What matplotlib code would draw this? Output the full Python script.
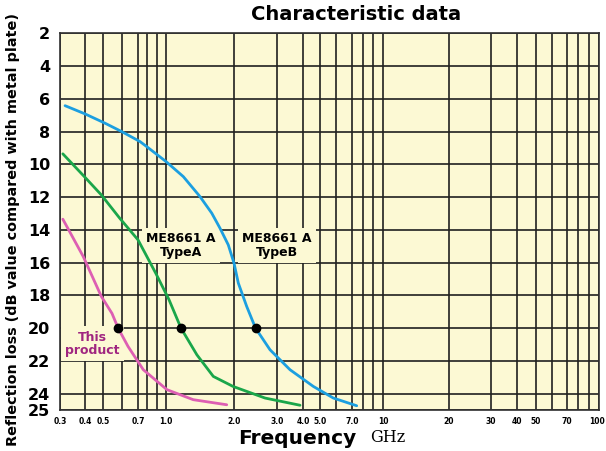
import numpy as np
import matplotlib
matplotlib.use("Agg")
import matplotlib.pyplot as plt
from matplotlib.transforms import ScaledTranslation

# ---- data (frequency GHz, reflection loss dB) ----
this_freq = [0.31, 0.392, 0.49, 0.545, 0.578, 0.636, 0.757, 1.01, 1.32, 1.857]
this_db   = [13.35, 15.63, 18.07, 19.1, 20.0, 21.12, 22.54, 23.76, 24.37, 24.68]

typeA_freq = [0.31, 0.397, 0.49, 0.587, 0.70, 0.886, 1.03, 1.165, 1.37, 1.62, 1.98, 2.68, 3.87]
typeA_db   = [9.36, 10.75, 11.87, 13.29, 14.61, 16.64, 18.25, 20.0, 21.63, 22.95, 23.56, 24.27, 24.71]

typeB_freq = [0.318, 0.40, 0.51, 0.598, 0.721, 0.797, 1.0, 1.193, 1.414, 1.594, 1.734, 1.887,
              2.0, 2.083, 2.255, 2.45, 2.808, 3.464, 4.58, 5.82, 7.41]
typeB_db   = [6.42, 6.92, 7.49, 8.0, 8.61, 8.92, 9.83, 10.75, 11.97, 12.98, 13.9, 14.92,
              16.03, 17.25, 18.68, 20.0, 21.32, 22.54, 23.56, 24.27, 24.74]

marker_freq = [0.58, 1.165, 2.45]
marker_db = [20, 20, 20]

x_labels = {0.3: "0.3", 0.4: "0.4", 0.5: "0.5", 0.7: "0.7", 1: "1.0", 2: "2.0", 3: "3.0",
            4: "4.0", 5: "5.0", 7: "7.0", 10: "10", 20: "20", 30: "30", 40: "40",
            50: "50", 70: "70", 100: "100"}
x_unlabeled = [0.6, 0.8, 0.9, 6, 8, 9, 60, 80, 90]
y_ticks = [2, 4, 6, 8, 10, 12, 14, 16, 18, 20, 22, 24, 25]

# ---- hand-drawn (near-log) frequency scale calibration ----
scale_freq = [0.3, 0.4, 0.5, 0.6, 0.7, 0.8, 0.9, 1, 2, 3, 4, 5, 6, 7, 8, 9, 10,
              20, 30, 40, 50, 60, 70, 80, 90, 100]
scale_pos = [60, 85, 103, 122, 138, 147, 157, 166, 234, 277, 303, 320, 336, 352, 363, 373, 383,
             449, 491, 517, 536, 552, 567, 578, 589, 599]
LK = np.log10(scale_freq)
PK = np.array(scale_pos, dtype=float)


def fwd(x):
    x = np.asarray(x, dtype=float)
    return np.interp(np.log10(np.clip(x, 1e-6, None)), LK, PK)


def inv(p):
    p = np.asarray(p, dtype=float)
    return 10 ** np.interp(p, PK, LK)


BG = "#fcf9d4"
fig = plt.figure(figsize=(6.06, 4.51), dpi=100)
ax = fig.add_axes([60 / 606, (451 - 410) / 451, 539 / 606, (410 - 33.3) / 451])
ax.set_facecolor(BG)
ax.set_xscale("function", functions=(fwd, inv))
ax.set_xlim(0.3, 100)
ax.set_ylim(25, 2)

ax.set_xticks(list(x_labels.keys()) + x_unlabeled)
ax.set_xticklabels(list(x_labels.values()) + [""] * len(x_unlabeled))
ax.xaxis.set_minor_locator(matplotlib.ticker.NullLocator())
ax.set_yticks(y_ticks)
ax.set_yticklabels([str(v) for v in y_ticks])
ax.tick_params(length=0)
ax.tick_params(axis="y", pad=7)
ax.tick_params(axis="x", pad=5)
for lab in ax.get_yticklabels():
    lab.set_fontsize(11.5)
    lab.set_fontweight("bold")
xls = ax.get_xticklabels()
for lab in xls:
    lab.set_fontsize(5.5)
    lab.set_fontweight("bold")
# keep the last label ("100") inside the figure
last = [l for l in xls if l.get_text() == "100"][0]
last.set_horizontalalignment("right")
last.set_transform(last.get_transform() + ScaledTranslation(6 / 100, 0, fig.dpi_scale_trans))

ax.set_axisbelow(True)
ax.grid(True, color="#202020", linewidth=1.2)
for s in ax.spines.values():
    s.set_color("#303030")
    s.set_linewidth(1.2)

kw = dict(lw=2.0, zorder=4, solid_capstyle="round", solid_joinstyle="round")
ax.plot(this_freq, this_db, color="#dd5fb3", **kw)
ax.plot(typeA_freq, typeA_db, color="#1aa64a", **kw)
ax.plot(typeB_freq, typeB_db, color="#1c9fe0", **kw)
ax.plot(marker_freq, marker_db, "o", color="black", ms=6, zorder=5)

box = dict(boxstyle="square,pad=0.35", facecolor=BG, edgecolor="none")
ax.text(1.165, 14.95, "ME8661 A\nTypeA", ha="center", va="center", fontsize=9,
        fontweight="bold", linespacing=1.05, bbox=box, zorder=3)
ax.text(3.0, 14.95, "ME8661 A\nTypeB", ha="center", va="center", fontsize=9,
        fontweight="bold", linespacing=1.05, bbox=box, zorder=3)
ax.text(0.44, 20.95, "This\nproduct", ha="center", va="center", fontsize=9,
        fontweight="bold", color="#a02680", linespacing=1.0, bbox=box, zorder=3)

fig.text(356 / 606, (451 - 14) / 451, "Characteristic data", ha="center", va="center",
         fontsize=14, fontweight="bold")
fig.text(13 / 606, (451 - 229) / 451, "Reflection loss (dB value compared with metal plate)",
         rotation=90, ha="center", va="center", fontsize=10.4, fontweight="bold")
fig.text(297 / 606, 3 / 451, "Frequency", ha="center", va="bottom",
         fontsize=14.5, fontweight="bold")
fig.text(388 / 606, 5 / 451, "GHz", ha="center", va="bottom",
         fontsize=11.5, family="DejaVu Serif")

fig.savefig("out.png", dpi=100, facecolor="white")
